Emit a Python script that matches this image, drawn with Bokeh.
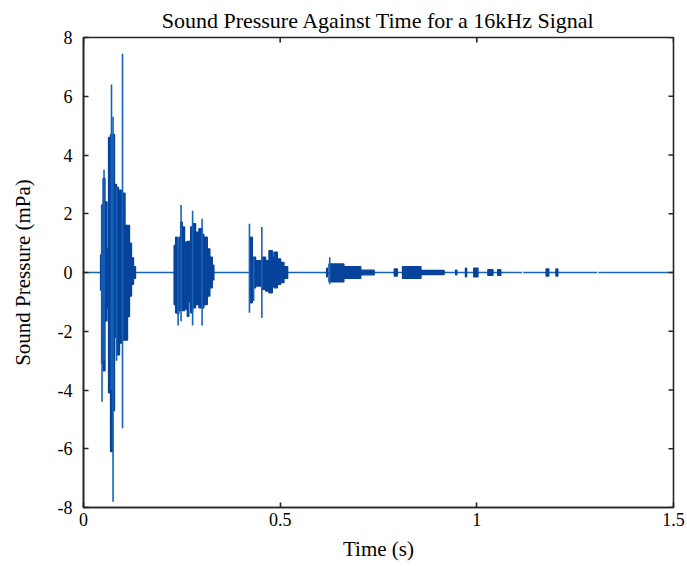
import math
from bokeh.plotting import figure
from bokeh.models import FixedTicker, Range1d, ColumnDataSource
from bokeh.embed import file_html
from bokeh.resources import INLINE

# ---- data (time in s, pressure in mPa) ----
# dense envelope blocks of the signal
env_start = [0.0433, 0.0458, 0.0496, 0.0547, 0.0598, 0.0636, 0.0687, 0.0738, 0.0789, 0.0840,
             0.0891, 0.0916, 0.0980, 0.1005, 0.1056, 0.1120, 0.1170, 0.1221, 0.1272,
             0.2303, 0.2341, 0.2384, 0.2425, 0.2468, 0.2511, 0.2570, 0.2638, 0.2679, 0.2723,
             0.2774, 0.2850, 0.2934, 0.3020, 0.3061, 0.3148, 0.3214, 0.3275,
             0.4249, 0.4293, 0.4377, 0.4504, 0.4547, 0.4631, 0.4715, 0.4801, 0.4842, 0.4929,
             0.5013, 0.5097,
             0.6180, 0.6240, 0.6620, 0.7050, 0.7900, 0.8110, 0.8580, 0.9460, 0.9710, 0.9920,
             1.0280, 1.0530, 1.1760, 1.2010]
env_end = [0.0458, 0.0496, 0.0547, 0.0598, 0.0636, 0.0687, 0.0738, 0.0789, 0.0840, 0.0891,
           0.0916, 0.0980, 0.1005, 0.1056, 0.1120, 0.1170, 0.1221, 0.1272, 0.1323,
           0.2341, 0.2384, 0.2425, 0.2468, 0.2511, 0.2570, 0.2638, 0.2679, 0.2723, 0.2774,
           0.2850, 0.2934, 0.3020, 0.3061, 0.3148, 0.3214, 0.3275, 0.3316,
           0.4293, 0.4377, 0.4504, 0.4547, 0.4631, 0.4715, 0.4801, 0.4842, 0.4929, 0.5013,
           0.5097, 0.5191,
           0.6200, 0.6620, 0.7050, 0.7390, 0.7980, 0.8580, 0.9170, 0.9490, 0.9740, 1.0030,
           1.0410, 1.0610, 1.1830, 1.2060]
env_high = [0.6, 2.3, 3.2, 2.4, 0.8, 4.6, 4.7, 4.7, 3.0, 2.9,
            1.6, 2.8, 2.7, 2.7, 1.6, 1.6, 1.0, 0.5, 0.2,
            0.92, 1.2, 0.9, 1.2, 1.72, 1.55, 1.03, 1.06, 1.06, 1.55,
            1.66, 1.37, 1.49, 1.3, 1.2, 0.8, 0.52, 0.25,
            1.2, 0.52, 0.4, 0.4, 0.52, 0.4, 0.74, 0.52, 0.69, 0.46,
            0.34, 0.2,
            0.15, 0.29, 0.2, 0.08, 0.12, 0.2, 0.07, 0.08, 0.15, 0.15,
            0.1, 0.1, 0.12, 0.12]
env_low = [-0.6, -3.1, -3.35, -1.65, -1.2, -4.1, -6.1, -4.7, -2.2, -2.8,
           -2.8, -2.4, -2.3, -2.3, -2.3, -1.5, -0.8, -0.4, -0.2,
           -1.09, -1.37, -1.4, -1.3, -1.2, -1.3, -1.25, -1.49, -1.0, -1.37,
           -1.2, -1.09, -1.2, -1.2, -1.09, -0.8, -0.52, -0.25,
           -1.03, -0.52, -0.46, -0.46, -0.57, -0.63, -0.69, -0.46, -0.52, -0.4,
           -0.34, -0.2,
           -0.15, -0.32, -0.2, -0.08, -0.12, -0.2, -0.07, -0.08, -0.15, -0.15,
           -0.1, -0.1, -0.12, -0.12]

# isolated peaks
spike_t = [0.0471, 0.0522, 0.0712, 0.0751, 0.0840, 0.0992,
           0.2405, 0.2481, 0.2774, 0.3015,
           0.4219, 0.4326, 0.4534, 0.6260]
spike_high = [2.3, 3.5, 6.4, 5.3, 2.9, 7.45,
              1.0, 2.3, 2.1, 1.83,
              1.66, 0.5, 1.55, 0.52]
spike_low = [-4.4, -3.0, -4.0, -7.8, -3.0, -5.3,
             -1.8, -1.66, -1.8, -1.8,
             -1.37, -0.97, -1.55, -0.4]

# zero-level trace between events (with two small dropouts)
base_start = [0.0, 1.118, 1.309]
base_end = [1.115, 1.306, 1.5]
base_level = [0.0, 0.0, 0.0]

x_ticks = [0, 0.5, 1, 1.5]
y_ticks = [-8, -6, -4, -2, 0, 2, 4, 6, 8]

SERIF = "Liberation Serif"
LINE_BLUE = "#1763b8"
DENSE_BLUE = "#07439b"
AXIS_COL = "#262626"

x_min, x_max = x_ticks[0], x_ticks[-1]
y_min, y_max = y_ticks[0], y_ticks[-1]

p = figure(frame_width=590, frame_height=470, output_backend="svg", toolbar_location=None,
           x_range=Range1d(x_min, x_max), y_range=Range1d(y_min, y_max),
           title="Sound Pressure Against Time for a 16kHz Signal")
p.min_border_left = 83
p.min_border_right = 14
p.min_border_top = 37
p.min_border_bottom = 59
p.background_fill_color = "white"
p.border_fill_color = "white"
p.outline_line_color = AXIS_COL
p.outline_line_width = 1.6
p.xgrid.visible = False
p.ygrid.visible = False

p.title.text_font = SERIF
p.title.text_font_size = "22px"
p.title.text_font_style = "normal"
p.title.text_color = "black"
p.title.align = "center"
p.title.standoff = 9

base_src = ColumnDataSource(dict(x0=base_start, x1=base_end, y=base_level))
p.segment(x0="x0", y0="y", x1="x1", y1="y", source=base_src, line_color=LINE_BLUE, line_width=1.6)

env_src = ColumnDataSource(dict(left=env_start, right=env_end, top=env_high, bottom=env_low))
p.quad(left="left", right="right", top="top", bottom="bottom", source=env_src,
       fill_color=DENSE_BLUE, line_color=DENSE_BLUE, line_width=1.3)

spk_src = ColumnDataSource(dict(t=spike_t, hi=spike_high, lo=spike_low))
p.segment(x0="t", y0="lo", x1="t", y1="hi", source=spk_src, line_color=LINE_BLUE, line_width=1.6)

# mirrored inward ticks on the top and right edges
p.ray(x=x_ticks, y=[y_max] * len(x_ticks), length=5, length_units="screen",
      angle=-math.pi / 2, line_color=AXIS_COL, line_width=1.6)
p.ray(x=[x_max] * len(y_ticks), y=y_ticks, length=5, length_units="screen",
      angle=math.pi, line_color=AXIS_COL, line_width=1.6)

for ax in (p.xaxis[0], p.yaxis[0]):
    ax.major_tick_in = 5
    ax.major_tick_out = 0
    ax.minor_tick_in = 0
    ax.minor_tick_out = 0
    ax.axis_line_color = AXIS_COL
    ax.axis_line_width = 1.6
    ax.major_tick_line_color = AXIS_COL
    ax.major_tick_line_width = 1.6
    ax.major_label_text_font = SERIF
    ax.major_label_text_font_size = "18px"
    ax.major_label_text_color = "black"
    ax.axis_label_text_font = SERIF
    ax.axis_label_text_font_size = "21px"
    ax.axis_label_text_font_style = "normal"
    ax.axis_label_text_color = "black"

p.xaxis.ticker = FixedTicker(ticks=x_ticks)
p.yaxis.ticker = FixedTicker(ticks=y_ticks)
p.xaxis.axis_label = "Time (s)"
p.yaxis.axis_label = "Sound Pressure (mPa)"
p.xaxis.major_label_standoff = 5
p.xaxis.axis_label_standoff = 8
p.yaxis.major_label_standoff = 11
p.yaxis.axis_label_standoff = 20
p.yaxis.major_label_orientation = "horizontal"
p.yaxis.major_label_overrides = {t: str(t) for t in y_ticks}

open("out.html", "w").write(file_html(p, INLINE))
